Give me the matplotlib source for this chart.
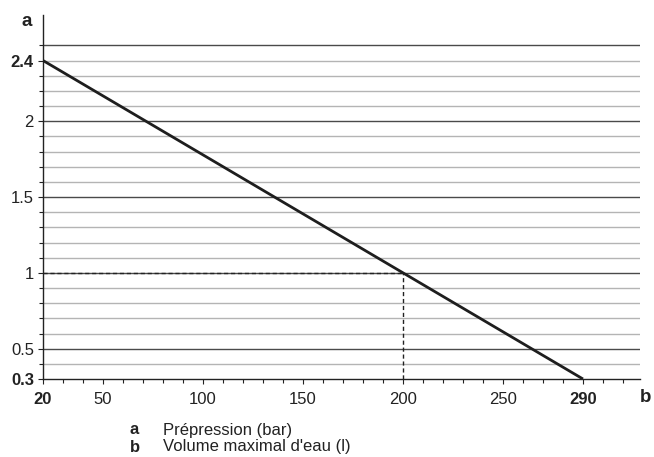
import numpy as np
import matplotlib
matplotlib.use("Agg")
import matplotlib.pyplot as plt
from matplotlib.ticker import MultipleLocator

plt.rcParams['font.family'] = ['Liberation Sans', 'DejaVu Sans']

# data
volume = [20, 290]          # l
pressure = [2.4, 0.3]       # bar
ref_volume = 200
ref_pressure = 1.0

x_ticks = [20, 50, 100, 150, 200, 250, 290]
x_bold = [20, 290]
y_ticks = [0.3, 0.5, 1, 1.5, 2, 2.4]
y_labels = ["0.3", "0.5", "1", "1.5", "2", "2.4"]
y_bold = ["0.3", "2.4"]

legend_keys = ["a", "b"]
legend_text = ["Prépression (bar)", "Volume maximal d'eau (l)"]

fig = plt.figure(figsize=(6.54, 4.57), dpi=100)
ax = fig.add_axes([43 / 654, 1 - 379 / 457, (640 - 43) / 654, (379 - 15) / 457])

ax.set_xlim(20, 318.5)
ax.set_ylim(0.3, 2.7)

# horizontal grid lines
for v in np.arange(4, 26) / 10:
    major = abs(v * 2 - round(v * 2)) < 1e-6
    ax.axhline(v, color="#4a4a4a" if major else "#b4b4b4", lw=1.0, zorder=1)

ax.plot([volume[0], ref_volume], [ref_pressure, ref_pressure], color="#222222",
        lw=1.0, ls=(0, (3, 2)), zorder=2)
ax.plot([ref_volume, ref_volume], [0.3, ref_pressure], color="#222222",
        lw=1.0, ls=(0, (3, 2)), zorder=2)
ax.plot(volume, pressure, color="#1e1e1e", lw=2.0, zorder=3, solid_capstyle="butt")

for s in ["top", "right"]:
    ax.spines[s].set_visible(False)
for s in ["left", "bottom"]:
    ax.spines[s].set_color("#222222")
    ax.spines[s].set_linewidth(1.0)

ax.set_xticks(x_ticks)
ax.set_xticklabels([str(t) for t in x_ticks])
ax.xaxis.set_minor_locator(MultipleLocator(10))
ax.set_yticks(y_ticks)
ax.set_yticklabels(y_labels)
ax.set_yticks(np.arange(3, 26) / 10, minor=True)
ax.set_xlim(20, 318.5)

ax.tick_params(axis="both", which="both", direction="out", length=3.5, width=0.8,
               color="#222222", labelsize=12, labelcolor="#222222")
ax.tick_params(axis="x", which="minor", length=3)
ax.tick_params(axis="x", which="major", pad=5.5)
ax.tick_params(axis="y", which="major", pad=3)
ax.tick_params(axis="y", which="minor", length=3)

for lab in ax.get_xticklabels():
    if lab.get_text() in [str(t) for t in x_bold]:
        lab.set_fontweight("bold")
for lab in ax.get_yticklabels():
    if lab.get_text() in y_bold:
        lab.set_fontweight("bold")

fig.text(21 / 654, 1 - 21 / 457, "a", fontsize=13.5, fontweight="bold",
         color="#222222", va="center", ha="left")
fig.text(640 / 654, 1 - 397 / 457, "b", fontsize=13.5, fontweight="bold",
         color="#222222", va="center", ha="left")

for i, (k, t) in enumerate(zip(legend_keys, legend_text)):
    y = 1 - (430 + i * 17) / 457
    fig.text(130 / 654, y, k, fontsize=12, fontweight="bold", color="#222222", va="center")
    fig.text(163 / 654, y, t, fontsize=12, color="#222222", va="center")

fig.savefig("out.png", dpi=100)
